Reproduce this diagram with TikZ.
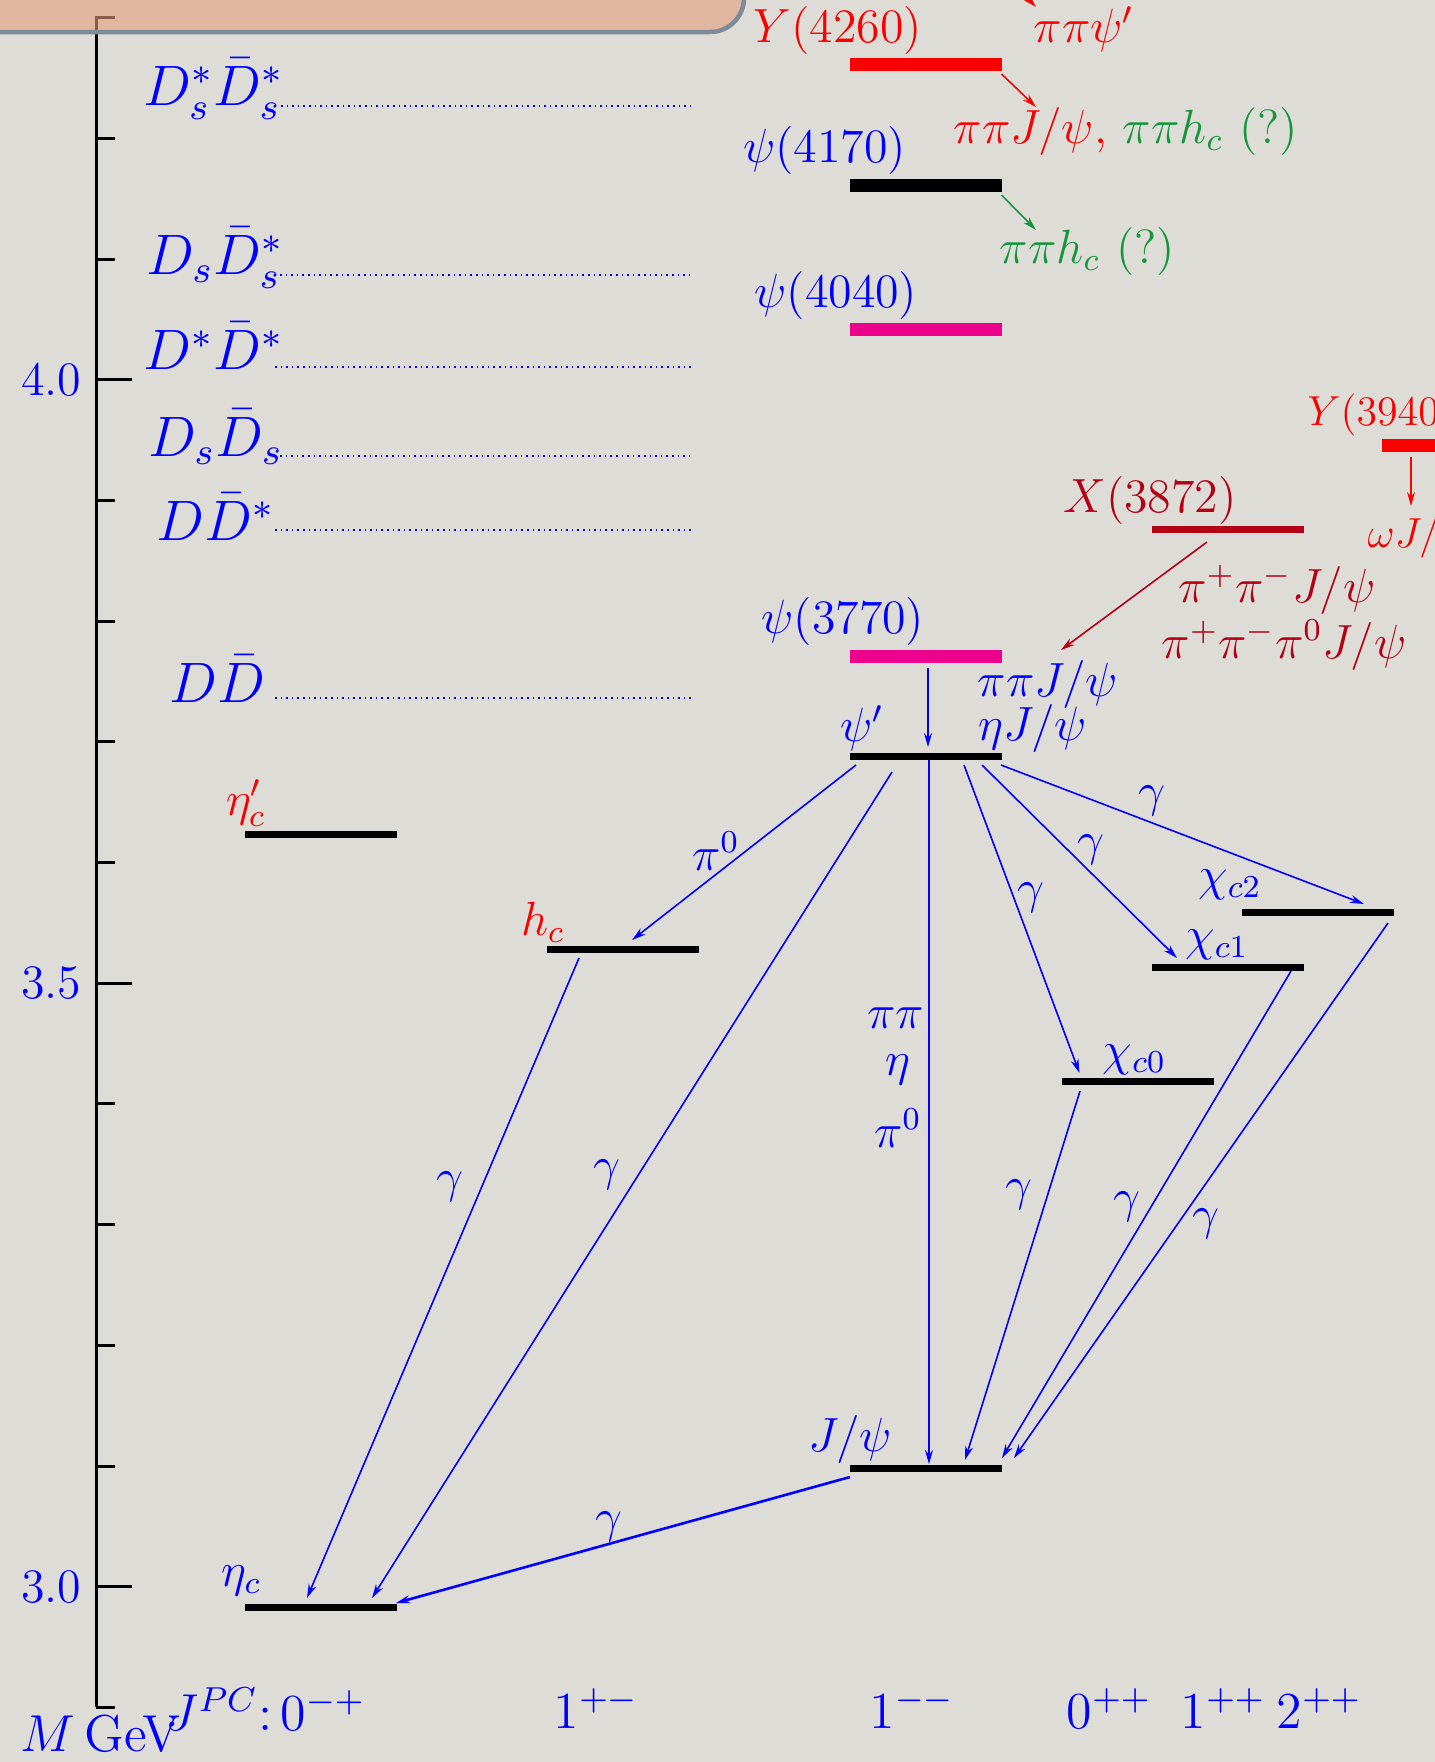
\documentclass[tikz,border=0pt]{standalone}
\usetikzlibrary{arrows.meta}
\definecolor{paper}{RGB}{222,220,214}
\definecolor{salmon}{RGB}{227,158,124}
\definecolor{frame}{RGB}{125,138,153}
\definecolor{myred}{RGB}{250,0,0}
\definecolor{dred}{RGB}{180,0,22}
\definecolor{mag}{RGB}{236,0,140}
\definecolor{mgreen}{RGB}{20,150,60}
\definecolor{mblue}{RGB}{0,0,255}
\begin{document}
\begin{tikzpicture}[x=1pt,y=-1pt,
  every node/.style={inner sep=0pt},
  lab/.style={scale=4, font=\fontsize{12}{14}\selectfont},
  sml/.style={scale=3.5, font=\fontsize{12}{14}\selectfont},
  thl/.style={scale=4.75, font=\fontsize{12}{14}\selectfont, text=mblue, anchor=base east},
  bot/.style={scale=4.33, font=\fontsize{12}{14}\selectfont, text=mblue, anchor=base west},
  lvl/.style={minimum width=152pt, minimum height=7pt, fill=black},
  lvlthick/.style={minimum width=152pt, minimum height=13pt},
  tr/.style={draw=mblue, line width=1.6pt, -{Stealth[length=14pt,width=8pt]}},
  thr/.style={draw=mblue, line width=1.6pt, dash pattern=on 1.6pt off 4pt},
  tickmark/.style={line width=3pt},
]
\fill[paper] (0,0) rectangle (1435,1762);
\useasboundingbox (0,0) rectangle (1435,1762);

% ---------------- mass axis
\draw[line width=3pt] (96,16) -- (96,1707.4);
\foreach \i in {0,...,14}{\draw[tickmark] (96,{1707.4-\i*120.69}) -- (115,{1707.4-\i*120.69});}
\foreach \yy in {1586.7,983.3,379.8}{\draw[tickmark] (96,\yy) -- (132,\yy);}
\node[lab,text=mblue,anchor=east] (m40) at (82,380) {4.0};
\node[lab,text=mblue,anchor=east] (m35) at (82,983) {3.5};
\node[lab,text=mblue,anchor=east] (m30) at (82,1587) {3.0};

% ---------------- title box (cut off)
\filldraw[fill=salmon, fill opacity=0.6, draw=frame, line width=4.5pt, rounded corners=34pt]
  (-100,-100) -- (744,-100) -- (744,32) -- (-100,32) -- cycle;

% ---------------- thresholds
\node[thl] (t1) at (285,105) {$D_s^*\bar D_s^*$};
\node[thl] (t2) at (285,274) {$D_s\bar D_s^*$};
\node[thl] (t3) at (285,369) {$D^*\bar D^*$};
\node[thl] (t4) at (284,456) {$D_s\bar D_s$};
\node[thl] (t5) at (276,540) {$D\bar D^*$};
\node[thl] (t6) at (266,702) {$D\bar D$};
\coordinate (t1a) at (281,106); \coordinate (t1b) at (692,106);
\coordinate (t2a) at (280,275); \coordinate (t2b) at (692,275);
\coordinate (t3a) at (275,367); \coordinate (t3b) at (692,367);
\coordinate (t4a) at (280,456); \coordinate (t4b) at (692,456);
\coordinate (t5a) at (275,530); \coordinate (t5b) at (692,530);
\coordinate (t6a) at (275,698); \coordinate (t6b) at (692,698);
\foreach \k in {1,...,6}{\draw[thr] (t\k a) -- (t\k b);}

% ---------------- levels
\node[lvlthick, fill=myred] (Y4260) at (925.5,64.5) {};
\node[lvlthick, fill=black] (psi4170) at (925.5,185.5) {};
\node[lvlthick, fill=mag] (psi4040) at (925.5,329) {};
\node[lvlthick, fill=mag] (psi3770) at (925.5,656.5) {};
\node[lvl] (psip) at (925.5,756) {};
\node[lvl] (jpsi) at (925.5,1468) {};
\node[lvl] (etac) at (321,1607.3) {};
\node[lvl] (etacp) at (321,834.3) {};
\node[lvl] (hc) at (623,949.3) {};
\node[lvl] (chic0) at (1137.5,1081) {};
\node[lvl] (chic1) at (1227.5,967.3) {};
\node[lvl] (chic2) at (1318.3,912.3) {};
\node[lvl, fill=dred] (X3872) at (1227.5,529) {};
\node[lvlthick, fill=myred] (Y3940) at (1457.7,445.3) {};

% ---------------- level labels
\node[lab,text=myred,anchor=base] (lY4260) at (838,42) {$Y(4260)$};
\node[lab,text=mblue,anchor=base] (lpsi4170) at (824.5,162) {$\psi(4170)$};
\node[lab,text=mblue,anchor=base] (lpsi4040) at (836,307) {$\psi(4040)$};
\node[lab,text=mblue,anchor=base] (lpsi3770) at (843,633) {$\psi(3770)$};
\node[lab,text=mblue,anchor=base] (lpsip) at (862,741) {$\psi'$};
\node[lab,text=mblue,anchor=base] (ljpsi) at (850,1451) {$J/\psi$};
\node[lab,text=mblue,anchor=base] (letac) at (241.5,1586) {$\eta_c$};
\node[lab,text=myred,anchor=base] (letacp) at (246,815) {$\eta_c'$};
\node[lab,text=myred,anchor=base] (lhc) at (543,935) {$h_c$};
\node[lab,text=mblue,anchor=base] (lchic0) at (1134.5,1065) {$\chi_{c0}$};
\node[lab,text=mblue,anchor=base] (lchic1) at (1217,950) {$\chi_{c1}$};
\node[lab,text=mblue,anchor=base] (lchic2) at (1230,890) {$\chi_{c2}$};
\node[lab,text=dred,anchor=base] (lX3872) at (1150,512) {$X(3872)$};
\node[sml,text=myred,anchor=base west] (lY3940) at (1307,425) {$Y(3940)$};

% ---------------- decay products
\node[lab,text=myred,anchor=base] (dpsip) at (1084,42) {$\pi\pi\psi'$};
\node[lab,anchor=base west] (dY) at (953,143) {\color{myred}$\pi\pi J/\psi$, \color{mgreen}$\pi\pi h_c$ (?)};
\node[lab,text=mgreen,anchor=base west] (d4170) at (999,263) {$\pi\pi h_c$ (?)};
\node[sml,text=myred,anchor=base west] (dY3940) at (1367,547) {$\omega J/\psi$};
\node[lab,text=dred,anchor=base] (dX1) at (1277,602) {$\pi^+\pi^-J/\psi$};
\node[lab,text=dred,anchor=base] (dX2) at (1284,658) {$\pi^+\pi^-\pi^0J/\psi$};
\node[lab,text=mblue,anchor=base west] (d3770a) at (977,696) {$\pi\pi J/\psi$};
\node[lab,text=mblue,anchor=base west] (d3770b) at (978,740) {$\eta J/\psi$};

% ---------------- transition end points
\coordinate (a1s) at (1001.5,74);   \coordinate (a1e) at (1036,107);
\coordinate (a2s) at (1001.5,195);  \coordinate (a2e) at (1036,230);
\coordinate (a3s) at (1000,-30);    \coordinate (a3e) at (1036,7);
\coordinate (a4s) at (1207,542);    \coordinate (a4e) at (1061,650);
\coordinate (a5s) at (1411,457);    \coordinate (a5e) at (1411,506);
\coordinate (a6s) at (928,668);     \coordinate (a6e) at (928,747);
\coordinate (a7s) at (856,765);     \coordinate (a7e) at (632,940);
\coordinate (a8s) at (892,772);     \coordinate (a8e) at (372,1598);
\coordinate (a9s) at (929,760);     \coordinate (a9e) at (929,1464);
\coordinate (a10s) at (964,765);    \coordinate (a10e) at (1079.5,1073);
\coordinate (a11s) at (982,765);    \coordinate (a11e) at (1177,958);
\coordinate (a12s) at (1001,765);   \coordinate (a12e) at (1364,904);
\coordinate (a13s) at (579,958);    \coordinate (a13e) at (307,1598);
\coordinate (a14s) at (1080,1091);  \coordinate (a14e) at (965,1460);
\coordinate (a15s) at (1291,971);   \coordinate (a15e) at (1002,1458);
\coordinate (a16s) at (1388,923);   \coordinate (a16e) at (1014,1458);
\coordinate (a17s) at (850,1477);   \coordinate (a17e) at (396,1603);

\draw[tr, draw=myred] (a1s) -- (a1e);
\draw[tr, draw=mgreen] (a2s) -- (a2e);
\draw[tr, draw=myred] (a3s) -- (a3e);
\draw[tr, draw=dred] (a4s) -- (a4e);
\draw[tr, draw=myred] (a5s) -- (a5e);
\foreach \k in {6,...,16}{\draw[tr] (a\k s) -- (a\k e);}
\draw[tr, line width=2.6pt] (a17s) -- (a17e);

% ---------------- transition labels
\node[lab,text=mblue] (lpi0) at (716,851) {$\pi^0$};
\node[lab,text=mblue] (g1) at (607,1175) {$\gamma$};
\node[lab,text=mblue] (g2) at (450,1187) {$\gamma$};
\node[lab,text=mblue] (g3) at (1031,898) {$\gamma$};
\node[lab,text=mblue] (g4) at (1091,850) {$\gamma$};
\node[lab,text=mblue] (g5) at (1152,801) {$\gamma$};
\node[lab,text=mblue] (g6) at (1019,1195) {$\gamma$};
\node[lab,text=mblue] (g7) at (1127,1207) {$\gamma$};
\node[lab,text=mblue] (g8) at (1206,1224) {$\gamma$};
\node[lab,text=mblue] (g9) at (609,1527) {$\gamma$};
\node[lab,text=mblue] (lpipi) at (896,1018) {$\pi\pi$};
\node[lab,text=mblue] (leta) at (898,1070) {$\eta$};
\node[lab,text=mblue] (lpi0b) at (898,1128) {$\pi^0$};

% ---------------- bottom row
\node[bot] (lM) at (20,1751) {$M$\,GeV};
\node[bot] (lJPC) at (165,1730) {$J^{PC}{:}\,0^{-+}$};
\node[bot] (q1) at (553,1728) {$1^{+-}$};
\node[bot] (q2) at (869,1728) {$1^{--}$};
\node[bot] (q3) at (1066,1728) {$0^{++}$};
\node[bot] (q4) at (1180,1728) {$1^{++}$};
\node[bot] (q5) at (1276,1728) {$2^{++}$};
\end{tikzpicture}
\end{document}
